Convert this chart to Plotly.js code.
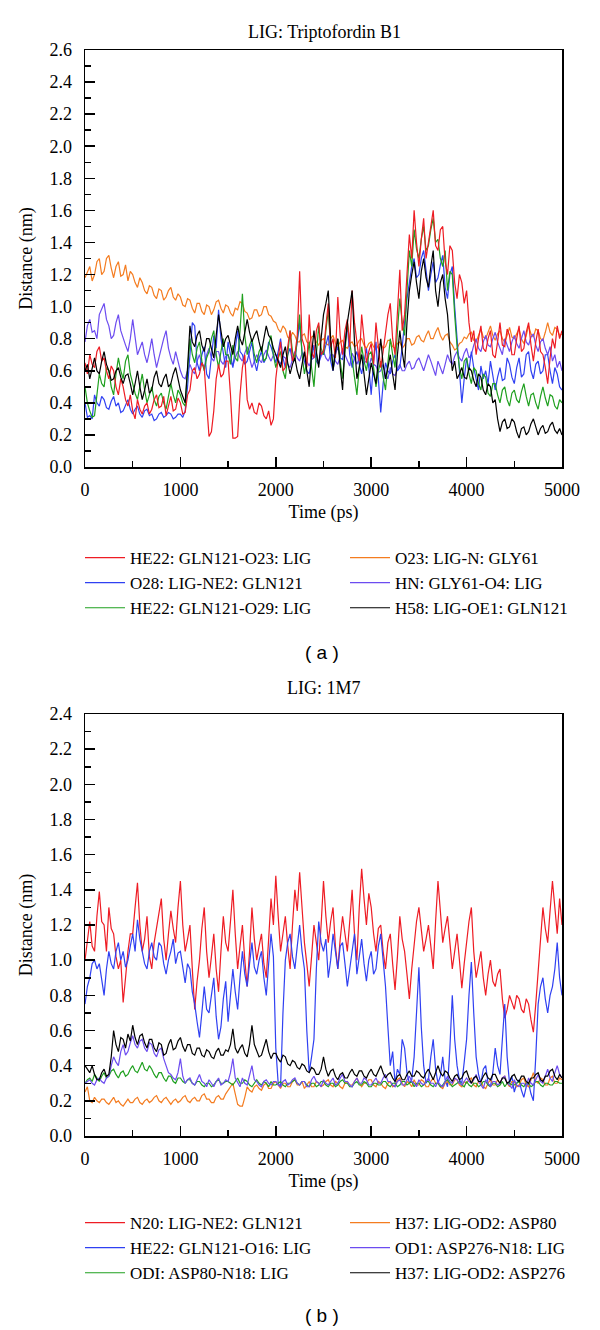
<!DOCTYPE html>
<html>
<head>
<meta charset="utf-8">
<script src="https://cdn.plot.ly/plotly-3.0.1.min.js"></script>
<style>html,body{margin:0;padding:0;background:#fff;}#chart{width:600px;height:1330px;}</style>
</head>
<body>
<div id="chart"></div>
<script>
// Sampling grid: one frame every 25 ps, 0..5000 ps
const TIME_PS = Array.from({length: 201}, (_, i) => i * 25);

// ---- Panel (a): LIG: Triptofordin B1 ----
const A_NAMES = ["HE22: GLN121-O23: LIG", "O23: LIG-N: GLY61", "O28: LIG-NE2: GLN121", "HN: GLY61-O4: LIG", "HE22: GLN121-O29: LIG", "H58: LIG-OE1: GLN121"];
const A_RED = [
0.65,0.58,0.70,0.64,0.62,0.72,0.75,0.66,0.68,0.60,0.55,0.63,0.60,0.50,0.45,0.55,0.50,0.42,0.38,0.45,
0.35,0.30,0.42,0.36,0.33,0.38,0.40,0.33,0.36,0.42,0.45,0.37,0.38,0.44,0.32,0.38,0.44,0.35,0.36,0.43,
0.40,0.33,0.34,0.45,0.48,0.60,0.62,0.55,0.58,0.65,0.62,0.40,0.19,0.22,0.35,0.55,0.64,0.56,0.58,0.66,
0.66,0.45,0.18,0.18,0.19,0.45,0.62,0.70,0.42,0.36,0.40,0.34,0.33,0.40,0.38,0.32,0.30,0.35,0.26,0.30,
0.55,0.68,0.78,0.60,0.62,0.75,0.85,0.66,0.70,0.82,1.22,0.80,0.75,0.62,0.95,0.72,0.68,0.85,0.90,0.70,
0.72,0.88,1.02,0.75,0.80,0.68,1.06,0.82,0.70,0.85,0.92,0.75,1.10,0.90,0.78,0.66,0.95,0.80,0.65,0.72,
0.77,0.64,0.90,0.75,0.62,0.72,0.85,0.95,1.02,0.80,0.70,0.98,1.23,0.85,0.95,1.20,1.45,1.30,1.60,1.40,
1.25,1.42,1.55,1.30,1.40,1.52,1.60,1.38,1.35,1.48,1.50,1.28,1.20,1.38,1.35,1.15,1.05,1.20,1.15,1.02,
1.10,0.90,0.78,0.85,0.70,0.80,0.88,0.74,0.72,0.80,0.85,0.70,0.68,0.78,0.90,0.76,0.75,0.86,0.82,0.70,
0.70,0.80,0.88,0.72,0.74,0.84,0.90,0.76,0.66,0.78,0.86,0.72,0.70,0.62,0.52,0.68,0.80,0.74,0.88,0.80,
0.85];
const A_ORANGE = [
1.18,1.22,1.25,1.16,1.20,1.28,1.30,1.20,1.22,1.30,1.32,1.24,1.18,1.25,1.28,1.19,1.20,1.26,1.16,1.22,
1.20,1.15,1.12,1.18,1.15,1.10,1.08,1.13,1.12,1.07,1.05,1.11,1.10,1.04,1.06,1.10,1.12,1.06,1.04,1.08,
1.06,1.01,1.00,1.05,1.04,0.99,0.96,1.02,1.02,0.97,0.95,1.01,1.00,0.95,0.98,1.03,1.04,0.99,0.96,1.01,
1.00,0.96,0.94,0.99,0.98,1.03,1.02,0.97,0.96,0.92,0.93,0.98,0.98,0.94,0.95,1.00,1.00,0.95,0.94,0.91,
0.90,0.86,0.84,0.88,0.86,0.81,0.80,0.84,0.82,0.78,0.78,0.82,0.83,0.78,0.77,0.81,0.82,0.78,0.76,0.79,
0.80,0.77,0.76,0.80,0.82,0.77,0.75,0.78,0.79,0.75,0.74,0.77,0.78,0.75,0.76,0.79,0.80,0.76,0.74,0.77,
0.78,0.75,0.73,0.76,0.77,0.74,0.75,0.79,0.79,0.75,0.74,0.77,0.78,0.74,0.76,0.80,0.80,0.76,0.77,0.81,
0.82,0.79,0.78,0.82,0.85,0.80,0.80,0.84,0.87,0.82,0.79,0.82,0.83,0.78,0.76,0.73,0.74,0.77,0.78,0.81,
0.80,0.83,0.84,0.79,0.78,0.82,0.86,0.81,0.80,0.84,0.88,0.82,0.79,0.83,0.85,0.80,0.78,0.82,0.87,0.81,
0.80,0.83,0.86,0.80,0.77,0.82,0.88,0.83,0.81,0.86,0.85,0.80,0.79,0.84,0.90,0.84,0.82,0.87,0.86,0.82,
0.83];
const A_BLUE = [
0.40,0.31,0.32,0.30,0.45,0.40,0.38,0.44,0.42,0.37,0.36,0.41,0.44,0.38,0.40,0.34,0.35,0.39,0.42,0.36,
0.33,0.36,0.38,0.33,0.31,0.35,0.36,0.32,0.33,0.29,0.30,0.33,0.34,0.31,0.32,0.34,0.33,0.30,0.31,0.33,
0.33,0.31,0.35,0.50,0.72,0.90,0.88,0.65,0.60,0.70,0.75,0.58,0.55,0.68,0.82,0.74,0.98,0.80,0.70,0.62,
0.78,0.70,0.62,0.74,0.85,0.72,0.70,0.64,0.66,0.72,0.78,0.66,0.60,0.68,0.72,0.65,0.68,0.78,0.75,0.70,
0.65,0.72,0.80,0.68,0.62,0.70,0.74,0.66,0.68,0.78,0.90,0.72,0.66,0.60,0.58,0.68,0.76,0.66,0.64,0.72,
0.70,0.76,0.82,0.66,0.60,0.70,0.75,0.68,0.67,0.78,0.88,0.70,0.62,0.68,0.72,0.64,0.58,0.66,0.74,0.62,
0.45,0.66,0.78,0.55,0.34,0.52,0.65,0.60,0.58,0.66,0.70,0.60,0.62,0.75,0.90,1.05,1.15,1.25,1.30,1.18,
1.20,1.30,1.35,1.22,1.10,1.20,1.28,1.15,1.18,1.26,1.32,1.12,1.05,1.20,1.25,1.00,0.80,0.60,0.40,0.55,
0.68,0.60,0.72,0.62,0.55,0.48,0.63,0.55,0.60,0.52,0.66,0.58,0.48,0.56,0.62,0.54,0.55,0.68,0.64,0.56,
0.52,0.62,0.68,0.56,0.58,0.70,0.72,0.60,0.55,0.64,0.66,0.58,0.60,0.70,0.70,0.60,0.52,0.62,0.58,0.50,
0.48];
const A_PURPLE = [
0.78,0.88,0.92,0.84,0.85,0.80,0.95,0.98,1.02,0.92,0.88,0.80,0.82,0.90,0.95,0.85,0.80,0.76,0.72,0.80,
0.92,0.82,0.70,0.74,0.78,0.70,0.65,0.72,0.80,0.70,0.62,0.68,0.75,0.80,0.85,0.74,0.68,0.64,0.72,0.66,
0.60,0.56,0.55,0.60,0.64,0.60,0.58,0.66,0.70,0.64,0.62,0.70,0.74,0.68,0.66,0.72,0.72,0.66,0.64,0.69,
0.70,0.66,0.63,0.68,0.72,0.68,0.66,0.71,0.75,0.68,0.62,0.66,0.70,0.67,0.65,0.70,0.73,0.69,0.66,0.70,
0.70,0.67,0.64,0.69,0.68,0.64,0.62,0.67,0.72,0.68,0.66,0.71,0.70,0.66,0.63,0.67,0.68,0.71,0.65,0.69,
0.72,0.68,0.66,0.70,0.70,0.66,0.64,0.69,0.74,0.70,0.66,0.63,0.71,0.67,0.64,0.68,0.70,0.65,0.66,0.62,
0.68,0.64,0.63,0.59,0.60,0.64,0.58,0.55,0.62,0.58,0.57,0.61,0.64,0.60,0.60,0.64,0.66,0.61,0.62,0.66,
0.68,0.64,0.60,0.65,0.70,0.66,0.62,0.57,0.66,0.62,0.58,0.64,0.70,0.66,0.64,0.69,0.72,0.68,0.66,0.71,
0.74,0.68,0.70,0.76,0.80,0.74,0.72,0.78,0.82,0.76,0.75,0.80,0.84,0.78,0.74,0.70,0.80,0.76,0.72,0.78,
0.82,0.77,0.74,0.80,0.85,0.78,0.76,0.81,0.83,0.76,0.72,0.78,0.80,0.74,0.70,0.75,0.66,0.70,0.62,0.66,
0.60];
const A_GREEN = [
0.50,0.40,0.35,0.31,0.32,0.45,0.58,0.52,0.50,0.62,0.60,0.50,0.45,0.58,0.68,0.60,0.55,0.66,0.70,0.58,
0.52,0.46,0.42,0.50,0.58,0.48,0.40,0.45,0.50,0.42,0.38,0.44,0.46,0.40,0.36,0.44,0.52,0.45,0.40,0.48,
0.45,0.40,0.38,0.60,0.80,0.70,0.65,0.74,0.78,0.66,0.60,0.68,0.72,0.80,0.85,0.70,0.62,0.72,0.80,0.70,
0.70,0.64,0.76,0.68,0.66,0.85,1.08,0.82,0.70,0.76,0.80,0.70,0.65,0.72,0.75,0.66,0.68,0.76,0.82,0.70,
0.62,0.68,0.72,0.60,0.55,0.70,0.85,0.72,0.66,0.80,0.95,0.70,0.58,0.66,0.78,0.62,0.50,0.70,0.88,0.74,
0.70,0.85,0.98,0.75,0.62,0.72,0.80,0.66,0.55,0.72,0.90,0.78,0.68,0.55,0.45,0.62,0.75,0.66,0.60,0.70,
0.72,0.62,0.50,0.60,0.66,0.56,0.48,0.65,0.80,0.70,0.62,0.85,1.05,0.90,0.82,1.10,1.35,1.25,1.48,1.36,
1.30,1.42,1.50,1.35,1.38,1.48,1.55,1.40,1.42,1.30,1.25,1.35,1.10,1.22,1.20,0.95,0.75,0.62,0.55,0.66,
0.68,0.58,0.52,0.62,0.60,0.52,0.48,0.58,0.56,0.46,0.44,0.52,0.52,0.45,0.40,0.48,0.50,0.42,0.38,0.46,
0.48,0.42,0.40,0.47,0.52,0.44,0.38,0.45,0.46,0.40,0.36,0.44,0.50,0.43,0.38,0.45,0.44,0.38,0.36,0.42,
0.40];
const A_BLACK = [
0.60,0.64,0.55,0.62,0.68,0.60,0.58,0.66,0.72,0.64,0.60,0.54,0.55,0.60,0.62,0.56,0.52,0.57,0.58,0.52,
0.45,0.52,0.60,0.50,0.42,0.48,0.55,0.46,0.48,0.56,0.60,0.52,0.50,0.55,0.58,0.50,0.52,0.58,0.62,0.55,
0.48,0.44,0.40,0.62,0.88,0.78,0.75,0.82,0.85,0.76,0.72,0.80,0.80,0.74,0.68,0.82,0.95,0.85,0.75,0.80,
0.82,0.76,0.70,0.80,0.88,0.80,0.76,0.84,0.92,0.84,0.78,0.82,0.85,0.78,0.72,0.80,0.88,0.82,0.80,0.74,
0.70,0.66,0.62,0.70,0.75,0.65,0.58,0.64,0.68,0.60,0.55,0.64,0.72,0.60,0.50,0.70,0.85,0.72,0.62,0.80,
0.95,1.02,1.10,0.80,0.60,0.72,0.80,0.62,0.48,0.75,0.90,1.00,1.10,0.78,0.55,0.62,0.70,0.58,0.45,0.55,
0.65,0.58,0.52,0.66,0.80,0.64,0.55,0.62,0.70,0.58,0.48,0.70,0.85,0.72,0.62,0.90,1.10,1.20,1.28,1.15,
1.05,1.22,1.30,1.18,1.12,1.25,1.35,1.10,1.00,1.15,1.20,1.05,0.95,0.75,0.60,0.66,0.55,0.58,0.62,0.56,
0.55,0.62,0.60,0.54,0.50,0.58,0.56,0.48,0.45,0.52,0.50,0.40,0.42,0.30,0.22,0.28,0.30,0.24,0.25,0.30,
0.28,0.22,0.18,0.24,0.25,0.20,0.22,0.27,0.30,0.25,0.20,0.24,0.26,0.21,0.22,0.26,0.28,0.23,0.21,0.24,
0.20];

// ---- Panel (b): LIG: 1M7 ----
const B_NAMES = ["N20: LIG-NE2: GLN121", "H37: LIG-OD2: ASP80", "HE22: GLN121-O16: LIG", "OD1: ASP276-N18: LIG", "ODI: ASP80-N18: LIG", "H37: LIG-OD2: ASP276"];
const B_RED = [
1.00,1.12,1.22,1.08,1.05,1.25,1.39,1.22,1.20,1.05,1.30,1.18,1.15,1.02,0.95,1.00,0.76,0.90,1.05,1.15,
1.15,1.30,1.44,1.20,1.05,1.12,1.25,1.02,0.95,1.10,1.18,1.28,1.35,1.12,1.00,1.15,1.28,1.18,1.10,1.30,
1.45,1.20,1.05,1.12,1.20,0.95,0.72,0.88,1.00,1.18,1.30,1.05,0.90,1.02,1.15,0.95,0.82,1.05,1.25,1.10,
1.05,1.22,1.40,1.15,0.95,1.08,1.20,1.00,0.85,1.05,1.30,1.12,1.00,1.08,1.15,0.98,0.90,1.12,1.35,1.20,
1.48,1.25,1.05,1.15,1.25,1.08,0.95,1.20,1.40,1.28,1.50,1.30,1.10,0.98,0.85,1.02,1.20,1.10,1.00,1.20,
1.45,1.25,1.10,1.22,1.30,1.08,0.95,1.12,1.25,1.15,1.05,1.22,1.40,1.15,1.00,1.30,1.52,1.35,1.20,1.38,
1.30,1.15,1.05,1.18,1.20,1.05,0.95,1.10,1.15,0.98,0.83,1.02,1.25,1.12,1.05,0.92,0.78,0.95,1.10,1.22,
1.30,1.18,1.05,1.12,1.20,1.08,0.95,1.22,1.45,1.28,1.10,1.18,1.25,1.10,0.95,1.05,1.15,1.00,0.84,0.98,
1.10,1.22,1.30,1.05,0.90,0.98,1.05,0.90,0.80,0.92,1.00,0.88,0.85,0.92,0.95,0.78,0.67,0.72,0.80,0.76,
0.72,0.80,0.78,0.72,0.70,0.78,0.75,0.66,0.59,0.75,0.95,1.12,1.30,1.18,1.10,1.28,1.45,1.30,1.15,1.35,
1.20];
const B_ORANGE = [
0.25,0.28,0.20,0.19,0.22,0.20,0.19,0.21,0.21,0.19,0.18,0.20,0.22,0.19,0.20,0.18,0.17,0.19,0.21,0.19,
0.19,0.21,0.22,0.19,0.18,0.20,0.21,0.19,0.20,0.22,0.23,0.20,0.19,0.21,0.22,0.20,0.18,0.20,0.21,0.19,
0.20,0.22,0.23,0.20,0.19,0.21,0.22,0.20,0.20,0.23,0.24,0.21,0.21,0.19,0.19,0.22,0.23,0.21,0.21,0.24,
0.26,0.28,0.30,0.24,0.18,0.17,0.17,0.22,0.28,0.26,0.25,0.28,0.29,0.27,0.26,0.29,0.30,0.27,0.27,0.30,
0.31,0.29,0.27,0.30,0.30,0.28,0.28,0.31,0.32,0.29,0.29,0.31,0.27,0.29,0.31,0.28,0.28,0.31,0.30,0.28,
0.29,0.31,0.32,0.29,0.28,0.31,0.30,0.28,0.27,0.30,0.31,0.29,0.29,0.31,0.33,0.30,0.28,0.30,0.30,0.32,
0.32,0.29,0.28,0.31,0.30,0.28,0.27,0.30,0.31,0.28,0.29,0.32,0.33,0.30,0.28,0.31,0.30,0.28,0.32,0.29,
0.29,0.32,0.31,0.28,0.28,0.31,0.33,0.30,0.30,0.28,0.27,0.30,0.31,0.29,0.29,0.32,0.32,0.29,0.28,0.31,
0.30,0.32,0.33,0.29,0.28,0.31,0.31,0.28,0.27,0.30,0.32,0.29,0.29,0.32,0.30,0.33,0.34,0.30,0.28,0.31,
0.31,0.28,0.29,0.32,0.33,0.29,0.28,0.32,0.36,0.31,0.30,0.33,0.32,0.29,0.29,0.33,0.34,0.30,0.30,0.33,
0.32];
const B_BLUE = [
0.75,0.85,0.90,0.98,1.00,0.95,0.98,0.88,0.80,0.95,1.05,0.98,0.95,1.05,1.10,1.00,1.05,0.96,1.00,1.08,
1.15,1.05,1.23,1.12,1.05,0.98,0.95,1.05,1.10,1.02,1.00,1.10,1.08,0.98,0.92,1.00,1.05,1.12,0.98,1.04,
1.05,0.95,0.87,0.98,0.95,0.82,0.75,0.65,0.56,0.70,0.85,0.72,0.70,0.80,0.90,0.68,0.55,0.62,0.78,0.88,
0.65,0.80,0.95,0.82,0.72,0.90,1.05,0.92,0.85,0.98,1.10,0.96,0.92,1.00,1.05,0.90,0.80,0.98,1.15,1.02,
0.50,0.30,0.28,0.70,1.00,1.10,1.15,1.02,0.95,1.08,1.20,1.05,0.95,0.60,0.36,0.45,0.55,0.95,1.22,1.10,
1.05,1.12,0.90,1.00,1.15,1.05,0.95,1.08,1.10,0.98,0.85,0.95,1.05,1.15,0.92,1.02,1.12,0.98,0.88,1.00,
1.05,0.92,0.95,1.08,1.15,1.00,0.85,0.62,0.40,0.48,0.30,0.38,0.35,0.55,0.50,0.36,0.30,0.32,0.45,0.70,
0.96,0.62,0.40,0.30,0.32,0.45,0.55,0.38,0.30,0.34,0.45,0.32,0.28,0.50,0.80,0.55,0.40,0.32,0.30,0.42,
0.55,0.80,0.99,0.70,0.45,0.35,0.30,0.38,0.40,0.30,0.28,0.36,0.50,0.40,0.35,0.55,0.75,0.45,0.30,0.34,
0.25,0.30,0.32,0.26,0.22,0.28,0.30,0.24,0.20,0.45,0.75,0.85,0.90,0.78,0.70,0.80,0.85,0.95,1.10,0.90,
0.80];
const B_PURPLE = [
0.30,0.31,0.32,0.30,0.29,0.32,0.33,0.31,0.30,0.33,0.34,0.40,0.45,0.42,0.40,0.48,0.52,0.46,0.48,0.53,
0.57,0.52,0.50,0.54,0.55,0.50,0.48,0.53,0.52,0.47,0.45,0.49,0.50,0.44,0.40,0.36,0.35,0.33,0.32,0.36,
0.44,0.34,0.30,0.32,0.33,0.30,0.29,0.32,0.35,0.31,0.30,0.28,0.32,0.30,0.28,0.31,0.33,0.29,0.30,0.32,
0.31,0.36,0.44,0.33,0.30,0.28,0.33,0.30,0.29,0.34,0.40,0.32,0.31,0.29,0.28,0.31,0.32,0.30,0.29,0.31,
0.31,0.29,0.28,0.31,0.32,0.29,0.30,0.32,0.33,0.30,0.29,0.31,0.31,0.28,0.28,0.32,0.34,0.31,0.30,0.28,
0.32,0.30,0.29,0.31,0.33,0.29,0.30,0.33,0.35,0.31,0.31,0.29,0.28,0.31,0.33,0.30,0.30,0.33,0.32,0.29,
0.29,0.31,0.33,0.30,0.30,0.33,0.35,0.31,0.31,0.29,0.28,0.31,0.32,0.29,0.29,0.32,0.34,0.31,0.30,0.28,
0.32,0.30,0.29,0.31,0.33,0.30,0.30,0.28,0.31,0.29,0.28,0.31,0.34,0.31,0.30,0.33,0.32,0.30,0.29,0.31,
0.33,0.31,0.30,0.32,0.35,0.31,0.29,0.27,0.32,0.30,0.28,0.31,0.31,0.29,0.30,0.33,0.34,0.30,0.29,0.27,
0.32,0.29,0.28,0.30,0.30,0.28,0.33,0.30,0.29,0.32,0.35,0.31,0.30,0.34,0.38,0.33,0.31,0.36,0.40,0.35,
0.33];
const B_GREEN = [
0.30,0.32,0.33,0.31,0.35,0.33,0.31,0.34,0.36,0.33,0.34,0.37,0.38,0.35,0.33,0.36,0.37,0.34,0.35,0.38,
0.40,0.37,0.36,0.39,0.42,0.38,0.37,0.40,0.38,0.35,0.33,0.36,0.36,0.33,0.31,0.34,0.34,0.31,0.30,0.33,
0.33,0.31,0.30,0.32,0.32,0.30,0.29,0.31,0.31,0.29,0.28,0.30,0.30,0.28,0.29,0.31,0.32,0.30,0.30,0.31,
0.31,0.30,0.29,0.31,0.33,0.30,0.30,0.32,0.31,0.29,0.28,0.30,0.32,0.30,0.29,0.31,0.30,0.28,0.31,0.29,
0.29,0.30,0.31,0.29,0.28,0.30,0.30,0.31,0.32,0.30,0.29,0.31,0.31,0.29,0.28,0.30,0.30,0.28,0.29,0.31,
0.31,0.29,0.28,0.30,0.30,0.28,0.29,0.31,0.32,0.30,0.30,0.28,0.28,0.30,0.31,0.29,0.29,0.31,0.30,0.28,
0.28,0.30,0.30,0.29,0.29,0.31,0.31,0.29,0.28,0.30,0.30,0.28,0.29,0.31,0.31,0.29,0.30,0.31,0.28,0.30,
0.30,0.28,0.29,0.31,0.31,0.29,0.28,0.30,0.30,0.28,0.29,0.31,0.32,0.30,0.28,0.29,0.30,0.31,0.29,0.28,
0.31,0.29,0.28,0.30,0.30,0.28,0.29,0.31,0.31,0.29,0.28,0.30,0.30,0.28,0.29,0.31,0.28,0.30,0.30,0.29,
0.29,0.30,0.31,0.29,0.28,0.30,0.30,0.28,0.29,0.31,0.31,0.29,0.28,0.30,0.30,0.29,0.29,0.31,0.31,0.30,
0.30];
const B_BLACK = [
0.40,0.38,0.36,0.40,0.35,0.32,0.32,0.36,0.38,0.34,0.35,0.45,0.60,0.52,0.48,0.56,0.55,0.50,0.58,0.54,
0.63,0.56,0.52,0.57,0.58,0.53,0.50,0.55,0.55,0.50,0.48,0.53,0.52,0.46,0.47,0.52,0.55,0.49,0.50,0.54,
0.56,0.51,0.48,0.52,0.52,0.47,0.46,0.50,0.50,0.46,0.45,0.49,0.48,0.45,0.44,0.48,0.50,0.46,0.46,0.49,
0.48,0.52,0.61,0.50,0.47,0.50,0.52,0.47,0.45,0.52,0.63,0.52,0.48,0.45,0.46,0.50,0.55,0.48,0.44,0.47,
0.47,0.44,0.42,0.46,0.45,0.41,0.40,0.43,0.42,0.39,0.38,0.41,0.40,0.37,0.36,0.39,0.38,0.35,0.35,0.38,
0.45,0.38,0.34,0.37,0.38,0.34,0.32,0.35,0.36,0.33,0.33,0.36,0.38,0.35,0.34,0.37,0.37,0.34,0.33,0.36,
0.38,0.35,0.34,0.37,0.40,0.36,0.33,0.35,0.36,0.33,0.31,0.34,0.35,0.32,0.32,0.35,0.37,0.34,0.34,0.37,
0.36,0.34,0.33,0.36,0.38,0.35,0.32,0.36,0.40,0.36,0.34,0.37,0.36,0.33,0.31,0.34,0.35,0.32,0.33,0.36,
0.37,0.33,0.30,0.33,0.34,0.31,0.31,0.34,0.36,0.33,0.32,0.35,0.35,0.32,0.30,0.33,0.33,0.30,0.31,0.34,
0.35,0.32,0.31,0.34,0.34,0.31,0.30,0.33,0.33,0.35,0.36,0.32,0.31,0.34,0.34,0.37,0.38,0.34,0.32,0.35,
0.33];

const C_RED = '#ee1c24', C_ORANGE = '#f47c20', C_BLUE = '#2f40f2', C_PURPLE = '#6c4cf0', C_GREEN = '#1fa01f', C_BLACK = '#000000';
const SERIF = 'Liberation Serif, Times New Roman, serif';

function tr(y, name, color, xa, ya, lg, rank) {
  return {x: TIME_PS, y: y, name: name, type: 'scatter', mode: 'lines',
    line: {color: color, width: 1.2}, xaxis: xa, yaxis: ya, legend: lg, legendrank: rank};
}

const data = [
  tr(A_ORANGE, A_NAMES[1], C_ORANGE, 'x', 'y', 'legend2', 1),
  tr(A_PURPLE, A_NAMES[3], C_PURPLE, 'x', 'y', 'legend2', 2),
  tr(A_BLUE, A_NAMES[2], C_BLUE, 'x', 'y', 'legend', 2),
  tr(A_GREEN, A_NAMES[4], C_GREEN, 'x', 'y', 'legend', 3),
  tr(A_RED, A_NAMES[0], C_RED, 'x', 'y', 'legend', 1),
  tr(A_BLACK, A_NAMES[5], C_BLACK, 'x', 'y', 'legend2', 3),
  tr(B_RED, B_NAMES[0], C_RED, 'x2', 'y2', 'legend3', 1),
  tr(B_BLUE, B_NAMES[2], C_BLUE, 'x2', 'y2', 'legend3', 2),
  tr(B_ORANGE, B_NAMES[1], C_ORANGE, 'x2', 'y2', 'legend4', 1),
  tr(B_GREEN, B_NAMES[4], C_GREEN, 'x2', 'y2', 'legend3', 3),
  tr(B_PURPLE, B_NAMES[3], C_PURPLE, 'x2', 'y2', 'legend4', 2),
  tr(B_BLACK, B_NAMES[5], C_BLACK, 'x2', 'y2', 'legend4', 3)
];

const W = 600, H = 1330;
const px = v => v / W;
const py = v => 1 - v / H;

function xax(anchor) {
  return {domain: [px(85), px(562)], range: [0, 5000], anchor: anchor,
    showgrid: false, zeroline: false, showline: true, mirror: true, linecolor: '#000', linewidth: 1.5,
    ticks: 'inside', ticklen: 10, tickwidth: 1.5, tickcolor: '#000', dtick: 1000, tick0: 0,
    minor: {dtick: 500, ticks: 'inside', ticklen: 6, tickwidth: 1.5, tickcolor: '#000'},
    tickfont: {family: SERIF, size: 18, color: '#000'}, ticklabelstandoff: 6,
    title: {text: 'Time (ps)', font: {family: SERIF, size: 18, color: '#000'}, standoff: 6}};
}
function yax(anchor, dom, top) {
  return {domain: dom, range: [0, top], anchor: anchor,
    showgrid: false, zeroline: false, showline: true, mirror: true, linecolor: '#000', linewidth: 1.5,
    ticks: 'inside', ticklen: 10, tickwidth: 1.5, tickcolor: '#000', dtick: 0.2, tick0: 0, tickformat: '.1f',
    minor: {dtick: 0.1, ticks: 'inside', ticklen: 6, tickwidth: 1.5, tickcolor: '#000'},
    tickfont: {family: SERIF, size: 18, color: '#000'}, ticklabelstandoff: 8,
    title: {text: 'Distance (nm)', font: {family: SERIF, size: 18, color: '#000'}, standoff: 12}};
}

const legFont = {family: SERIF, size: 17, color: '#000'};
function leg(x, y) {
  return {x: px(x), y: py(y), xanchor: 'left', yanchor: 'top', orientation: 'v',
    font: legFont, bgcolor: 'rgba(0,0,0,0)', borderwidth: 0, itemwidth: 40, tracegroupgap: 0};
}

const layout = {
  width: W, height: H, margin: {l: 0, r: 0, t: 0, b: 0},
  paper_bgcolor: '#fff', plot_bgcolor: '#fff', showlegend: true,
  xaxis: xax('y'), yaxis: yax('x', [py(467), py(50)], 2.6),
  xaxis2: xax('y2'), yaxis2: yax('x2', [py(1136), py(714)], 2.4),
  legend: leg(80, 540), legend2: leg(345, 540),
  legend3: leg(80, 1205), legend4: leg(345, 1205),
  annotations: [
    {text: 'LIG: Triptofordin B1', x: px(324), y: py(32), xref: 'paper', yref: 'paper', showarrow: false,
     xanchor: 'center', yanchor: 'middle', font: {family: SERIF, size: 18, color: '#000'}},
    {text: 'LIG: 1M7', x: px(324), y: py(688), xref: 'paper', yref: 'paper', showarrow: false,
     xanchor: 'center', yanchor: 'middle', font: {family: SERIF, size: 18, color: '#000'}},
    {text: '( a )', x: px(322), y: py(652), xref: 'paper', yref: 'paper', showarrow: false,
     xanchor: 'center', yanchor: 'middle', font: {family: 'Liberation Sans, Arial, sans-serif', size: 19, color: '#000'}},
    {text: '( b )', x: px(322), y: py(1315), xref: 'paper', yref: 'paper', showarrow: false,
     xanchor: 'center', yanchor: 'middle', font: {family: 'Liberation Sans, Arial, sans-serif', size: 19, color: '#000'}}
  ]
};

Plotly.newPlot('chart', data, layout, {displayModeBar: false, staticPlot: true});
</script>
</body>
</html>
